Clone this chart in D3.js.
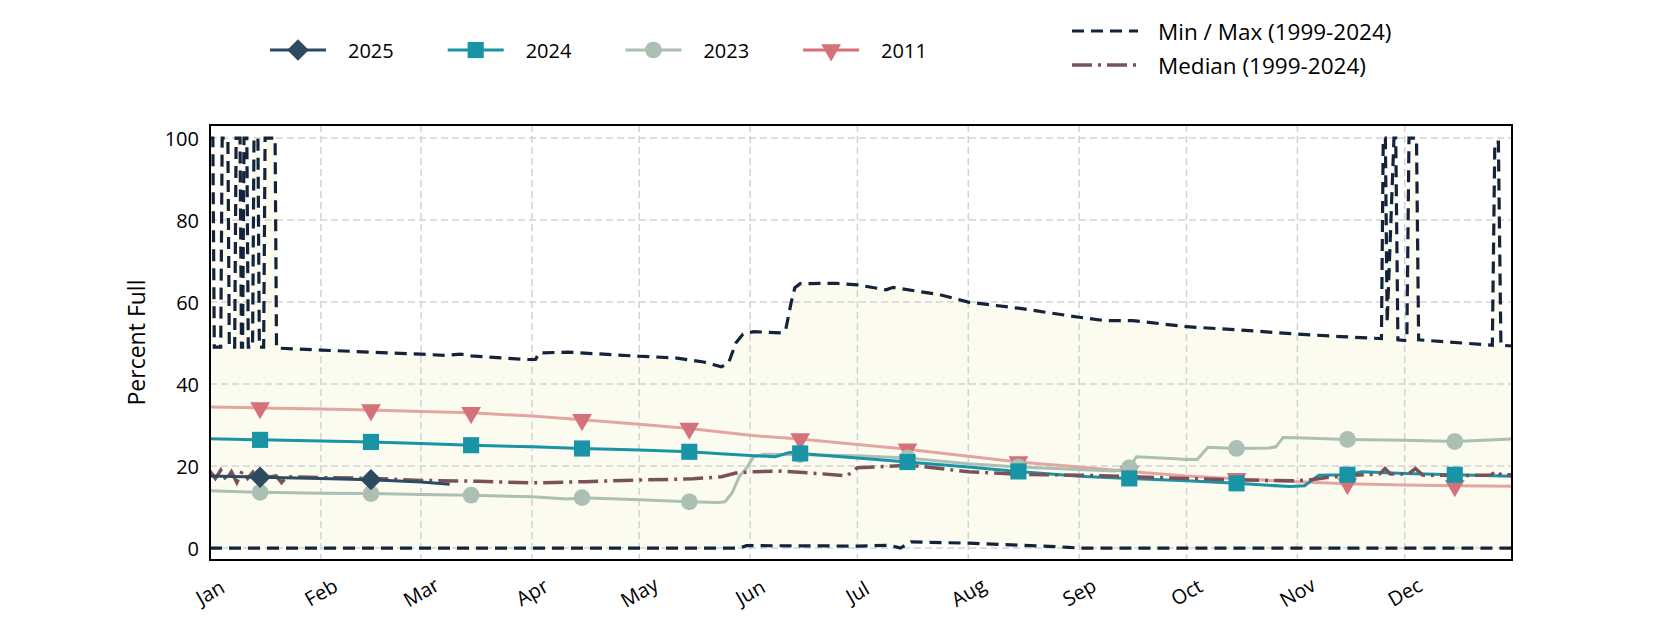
<!DOCTYPE html>
<html><head><meta charset="utf-8">
<script src="https://cdn.jsdelivr.net/npm/d3@7"></script>
<style>
html,body{margin:0;padding:0;background:#fff;}
svg{display:block;font-family:"Open Sans",Lato,sans-serif;}
</style></head>
<body>
<svg id="chart" width="1680" height="630"></svg>
<script>
// ---------- DATA (day of year from Jan 1, value in percent full) ----------
const monthLabels = ["Jan","Feb","Mar","Apr","May","Jun","Jul","Aug","Sep","Oct","Nov","Dec"];
const yTickValues = [0,20,40,60,80,100];
const markerDays = [14,45,73,104,134,165,195,226,257,287,318,348]; // 15th of each month

const s2025Days   = [0,14,31,45,59,67];
const s2025Values = [17.6,17.3,17.0,16.7,16.1,15.6];

const s2024Days   = [0,14,31,45,59,73,90,104,120,134,145,151,158,162,165,172,181,195,212,226,243,257,273,287,302,306,310,318,322,334,348,364];
const s2024Values = [26.7,26.4,26.1,25.9,25.5,25.1,24.7,24.3,23.9,23.5,22.9,22.6,22.3,23.3,23.1,22.6,22.0,21.0,19.8,18.7,17.5,17.0,16.4,15.8,15.0,15.2,17.8,17.9,18.6,18.2,17.9,17.5];

const s2023Days   = [0,14,31,45,59,73,90,100,104,120,134,142,144,146,148,150,152,155,165,181,195,212,226,243,253,257,259,270,273,276,279,287,296,298,300,304,318,334,348,364];
const s2023Values = [14.0,13.6,13.4,13.3,13.1,12.9,12.5,12.0,12.3,11.8,11.3,11.1,11.3,13.5,17.5,19.5,22.3,22.9,22.8,22.5,22.0,20.6,19.8,19.2,18.8,19.6,22.3,21.8,21.6,21.6,24.6,24.3,24.4,24.7,27.0,26.9,26.5,26.3,26.0,26.6];

const s2011Days   = [0,14,31,45,59,73,90,104,120,134,151,165,181,195,212,226,243,257,273,287,304,318,334,348,364];
const s2011Values = [34.4,34.2,33.9,33.7,33.3,33.0,32.2,31.3,30.2,29.2,27.5,26.6,25.3,24.1,22.4,21.0,19.8,18.7,17.6,16.9,16.2,15.7,15.4,15.2,15.1];

const medianDays   = [0,1.5,3,4.5,6,7.5,9,10.5,12,13.5,15,17,18.5,20,21.5,31,45,59,75,90,105,120,135,143,147,151,160,170,178,181,196,212,227,243,258,273,288,302,307,314,320,327,328.5,330,335,337,339,350,358,359.7,361,364];
const medianValues = [18.7,17.0,19.0,16.6,18.6,16.0,18.8,17.0,18.5,16.4,17.8,17.4,17.6,16.0,17.4,17.2,17.0,16.5,16.3,15.9,16.2,16.6,16.9,17.4,18.3,18.6,18.8,18.2,17.6,19.6,20.2,18.6,18.0,17.8,17.4,17.0,16.6,16.4,16.6,17.4,17.8,18.1,19.4,18.1,18.1,19.4,17.8,17.7,17.8,18.8,17.8,17.9];

const maxDays   = [0,0.8,1.2,3.0,3.4,5.0,5.4,6.9,7.3,8.4,8.8,9.1,9.5,10.3,10.7,11.9,12.3,13.4,13.8,15.0,15.4,18.2,18.6,31,45,59,66,70,73,88,91,92,100,110,120,130,138,143,145,147,149,152,160,161,162.5,163.5,165,175,181,189,191,204,212,227,243,250,258,273,288,304,316,327.5,328,328.6,329.1,331,331.5,332.1,334.6,335.2,337.3,337.9,358.5,359.2,360.2,360.9,364];
const maxValues = [100,100,49,49,100,100,49,49,100,100,49,49,100,100,49,49,100,100,49,49,100,100,48.8,48.3,47.8,47.3,47.0,47.3,46.9,46.0,46.0,47.6,47.8,47.3,46.8,46.4,45.4,44.2,45.2,50.0,52.2,52.8,52.5,53.5,60.0,63.5,64.5,64.6,64.2,63.0,63.6,61.8,60.0,58.4,56.3,55.5,55.5,54.0,53.2,52.2,51.6,51.1,100,100,55,100,100,50.8,50.6,100,100,50.8,49.5,99,99,49.5,49.3];

const minDays   = [0,148,150,181,190,193,196,212,227,240,243,364];
const minValues = [0,0,0.6,0.5,0.7,0.0,1.5,1.2,0.7,0.2,0,0];

// ---------- LAYOUT ----------
const svg = d3.select("#chart");
const L = 210, R = 1512, T = 125, B = 560;
const start = new Date(2025,0,1), end = new Date(2025,11,31);
const toDate = d => new Date(start.getTime() + d*86400000);

const x = d3.scaleTime().domain([start,end]).range([L,R]);
const y = d3.scaleLinear().domain([-2.9,103.2]).range([B,T]);

const zip = (ds,vs) => ds.map((d,i)=>({d:toDate(d), day:d, v:vs[i]}));
const s2025 = zip(s2025Days,s2025Values);
const s2024 = zip(s2024Days,s2024Values);
const s2023 = zip(s2023Days,s2023Values);
const s2011 = zip(s2011Days,s2011Values);
const med   = zip(medianDays,medianValues);
const mx    = zip(maxDays,maxValues);
const mn    = zip(minDays,minValues);

const line = d3.line().x(p=>x(p.d)).y(p=>y(p.v));

const g = svg.append("g");
// fill between min and max
g.append("path")
  .attr("d", line(mx.concat(mn.slice().reverse())) + "Z")
  .attr("fill","#fbfbf0").attr("stroke","none");

// grid
const months = d3.timeMonth.range(start, end);
g.append("g").selectAll("line").data(months).join("line")
  .attr("x1",d=>x(d)).attr("x2",d=>x(d)).attr("y1",T).attr("y2",B)
  .attr("stroke","#d3d3d3").attr("stroke-width",1.5).attr("stroke-dasharray","7,4");
g.append("g").selectAll("line").data(yTickValues).join("line")
  .attr("x1",L).attr("x2",R).attr("y1",d=>y(d)).attr("y2",d=>y(d))
  .attr("stroke","#d3d3d3").attr("stroke-width",1.5).attr("stroke-dasharray","7,4");

// min / max
const navy = "#13233a";
[mx,mn].forEach(s=>{
  g.append("path").attr("d",line(s)).attr("fill","none")
   .attr("stroke",navy).attr("stroke-width",3.2).attr("stroke-dasharray","12,7");
});

// series lines
const c2025="#2c4a62", c2024="#1993a6", c2023="#abbfb2", c2011="#d4717a", c2011l="#e4a5a2", cMed="#7a5158";
g.append("path").attr("d",line(s2011)).attr("fill","none").attr("stroke",c2011l).attr("stroke-width",3);
g.append("path").attr("d",line(s2023)).attr("fill","none").attr("stroke",c2023).attr("stroke-width",3);
g.append("path").attr("d",line(s2024)).attr("fill","none").attr("stroke",c2024).attr("stroke-width",3);
g.append("path").attr("d",line(med)).attr("fill","none").attr("stroke",cMed).attr("stroke-width",3.5).attr("stroke-dasharray","20,6,3,6");
g.append("path").attr("d",line(s2025)).attr("fill","none").attr("stroke",c2025).attr("stroke-width",3);

// markers
const sym = {
  tri: {p:d3.symbol().type(d3.symbolTriangle).size(170)(), r:180},
  circ: {p:d3.symbol().type(d3.symbolCircle).size(220)(), r:0},
  sq: {p:d3.symbol().type(d3.symbolSquare).size(260)(), r:0},
  dia: {p:d3.symbol().type(d3.symbolSquare).size(230)(), r:45}
};
function markers(s, m, color){
  g.append("g").selectAll("path").data(s.filter(p=>markerDays.includes(p.day))).join("path")
   .attr("d",m.p).attr("fill",color)
   .attr("transform",p=>`translate(${x(p.d)},${y(p.v)}) rotate(${m.r})`);
}
markers(s2011, sym.tri, c2011);
markers(s2023, sym.circ, c2023);
markers(s2024, sym.sq, c2024);
markers(s2025, sym.dia, c2025);

// frame
svg.append("rect").attr("x",L).attr("y",T).attr("width",R-L).attr("height",B-T)
  .attr("fill","none").attr("stroke","#000").attr("stroke-width",2);

// axes labels
svg.append("g").selectAll("text").data(yTickValues).join("text")
  .attr("x",L-11).attr("y",d=>y(d)).attr("text-anchor","end").attr("dominant-baseline","central")
  .attr("font-size",20).attr("fill","#000").text(d=>d);
svg.append("g").selectAll("text").data(months).join("text")
  .attr("transform",d=>`translate(${x(d)},${592}) rotate(-30)`)
  .attr("text-anchor","middle").attr("dominant-baseline","central")
  .attr("font-size",20).attr("fill","#000").text((d,i)=>monthLabels[i]);
svg.append("text").attr("transform",`translate(136,${(T+B)/2}) rotate(-90)`)
  .attr("text-anchor","middle").attr("dominant-baseline","central")
  .attr("font-size",23).text("Percent Full");

// legend (top-left)
const legItems = [
  {label:"2025", color:c2025, m:sym.dia},
  {label:"2024", color:c2024, m:sym.sq},
  {label:"2023", color:c2023, m:sym.circ},
  {label:"2011", color:c2011, m:sym.tri}
];
const lg = svg.append("g");
legItems.forEach((it,i)=>{
  const x0 = 270 + i*177.7, yy = 50;
  lg.append("line").attr("x1",x0).attr("x2",x0+56).attr("y1",yy).attr("y2",yy)
    .attr("stroke",it.color).attr("stroke-width",3);
  lg.append("path").attr("d",it.m.p).attr("fill",it.color)
    .attr("transform",`translate(${x0+28},${yy}) rotate(${it.m.r})`);
  lg.append("text").attr("x",x0+78).attr("y",yy).attr("dominant-baseline","central")
    .attr("font-size",20).text(it.label);
});
// legend (top-right)
const rl = svg.append("g");
rl.append("line").attr("x1",1072).attr("x2",1138).attr("y1",31).attr("y2",31)
  .attr("stroke",navy).attr("stroke-width",3.2).attr("stroke-dasharray","12,7");
rl.append("text").attr("x",1158).attr("y",31).attr("dominant-baseline","central").attr("font-size",22.5).text("Min / Max (1999-2024)");
rl.append("line").attr("x1",1072).attr("x2",1138).attr("y1",65).attr("y2",65)
  .attr("stroke",cMed).attr("stroke-width",3.5).attr("stroke-dasharray","20,6,3,6");
rl.append("text").attr("x",1158).attr("y",65).attr("dominant-baseline","central").attr("font-size",22.5).text("Median (1999-2024)");
</script>
</body></html>
